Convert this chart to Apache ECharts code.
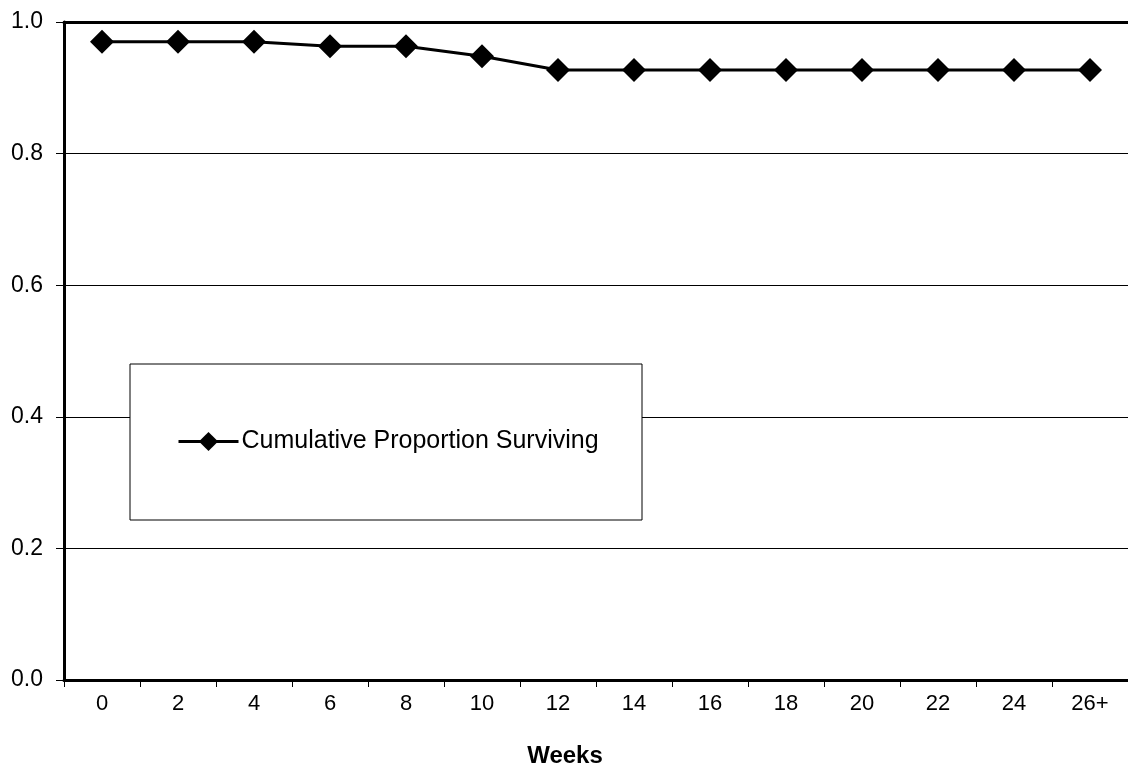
<!DOCTYPE html>
<html>
<head>
<meta charset="utf-8">
<script src="https://cdn.jsdelivr.net/npm/echarts@6/dist/echarts.min.js"></script>
<style>html,body{margin:0;padding:0;background:#fff}#c{width:1128px;height:773px}</style>
</head>
<body>
<div id="c"></div>
<script>
const categories = ['0','2','4','6','8','10','12','14','16','18','20','22','24','26+'];
const surviving = [0.970,0.970,0.970,0.963,0.963,0.948,0.927,0.927,0.927,0.927,0.927,0.927,0.927,0.927];
const yTicks = {min:0, max:1, interval:0.2};
const seriesName = 'Cumulative Proportion Surviving';
const xName = 'Weeks';

const chart = echarts.init(document.getElementById('c'), null, {renderer:'canvas'});
const font = 'Arial, "Liberation Sans", sans-serif';
chart.setOption({
  backgroundColor:'#fff',
  animation:false,
  grid:{left:64, top:22, width:1068, height:658, show:false},
  xAxis:[{
    type:'category', data:categories, boundaryGap:true,
    name:xName, nameLocation:'middle', nameGap:64,
    nameTextStyle:{fontFamily:font, fontSize:24, fontWeight:'bold', color:'#000', padding:[0,62,0,0]},
    axisLine:{lineStyle:{color:'#000', width:3}},
    axisTick:{show:true, length:7, lineStyle:{color:'#000', width:1}},
    axisLabel:{fontFamily:font, fontSize:22, color:'#000', margin:13}
  },{
    type:'category', data:categories, position:'top', boundaryGap:true,
    axisLine:{show:true, lineStyle:{color:'#000', width:3}},
    axisTick:{show:false}, axisLabel:{show:false}, splitLine:{show:false}
  }],
  yAxis:{
    type:'value', min:yTicks.min, max:yTicks.max, interval:yTicks.interval,
    axisLine:{show:true, lineStyle:{color:'#000', width:3}},
    axisTick:{show:true, length:8, lineStyle:{color:'#000', width:1}},
    splitLine:{show:true, lineStyle:{color:'#000', width:1}},
    axisLabel:{fontFamily:font, fontSize:23, color:'#000', margin:21, formatter:v=>v.toFixed(1)}
  },
  graphic:[{type:'rect', shape:{x:130, y:364, width:512, height:156}, style:{fill:'#fff', stroke:'#000', lineWidth:1}, z:50}],
  legend:{
    left:177, top:429, z:60, padding:0, itemWidth:60, itemHeight:24, itemGap:4,
    lineStyle:{width:3, color:'#000'},
    textStyle:{fontFamily:font, fontSize:25, color:'#000', padding:[0,0,0,-2]},
    data:[{name:seriesName, itemStyle:{color:'#000'}}]
  },
  series:[{
    name:seriesName, type:'line', data:surviving,
    symbol:'diamond', symbolSize:24,
    lineStyle:{color:'#000', width:3}, itemStyle:{color:'#000'}, z:3
  }]
});
</script>
</body>
</html>
